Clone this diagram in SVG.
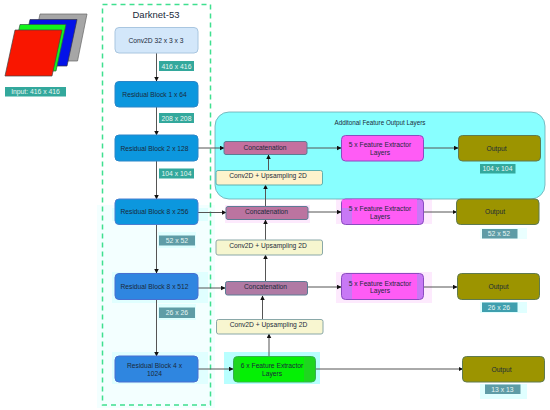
<svg xmlns="http://www.w3.org/2000/svg" width="550" height="410" viewBox="0 0 550 410">
<style>
text{font-family:"Liberation Sans",Arial,sans-serif;font-size:6.7px;text-anchor:middle;fill:#1a2a3a}
.l{fill:#33a89c}.lt{fill:#e6f5f2;font-size:6.8px}
.b{fill:#0c97de;stroke:#2a86c8;stroke-width:1}
.b2{fill:#2f86e0;stroke:#4a6fd0;stroke-width:1}
.c{fill:#c4709f;stroke:#5c7c94;stroke-width:1}
.f{fill:#ff5cf5;stroke:#8a4cc0;stroke-width:1}
.o{fill:#9c9400;stroke:#5f7a50;stroke-width:1}
.u{fill:#f6f6cf;stroke:#8aa8a8;stroke-width:1}
.h{fill:#e0ffff}.hp{fill:#fdeafd}
.e{stroke:#555;stroke-width:1;fill:none;marker-end:url(#a)}
</style>
<defs><marker id="a" markerUnits="userSpaceOnUse" markerWidth="5" markerHeight="5" refX="4" refY="2.25" orient="auto"><path d="M0 0L4.500 2.250L0 4.500Z" fill="#111"/></marker></defs>
<rect width="550" height="410" fill="#fff"/>
<rect x="97" y="205" width="118" height="203" fill="#f3ffff"/>
<rect x="112" y="208" width="96" height="13" class="h"/>
<rect x="112" y="272" width="96" height="31" class="h"/>
<rect x="112" y="352" width="96" height="32" class="h"/>
<rect x="158" y="232" width="38" height="16" class="h"/>
<rect x="158" y="304" width="38" height="16" class="h"/>
<rect x="225" y="205" width="85" height="18" class="hp"/>
<rect x="336" y="199" width="96" height="25" class="hp"/>
<rect x="336" y="272" width="96" height="31" class="hp"/>
<rect x="480" y="228" width="47" height="11" fill="#eaffff"/>
<rect x="480" y="302" width="47" height="11" class="h"/>
<rect x="480" y="384" width="47" height="15" class="h"/>
<rect x="224" y="352" width="96" height="32" fill="#b8ffff"/>

<g id="input">
<path d="M40 14H87L77.500 61H30Z" fill="#a6a6a6" stroke="#666" stroke-width=".7"/>
<path d="M30 19.500H77L67 66H20Z" fill="#0412e8" stroke="#334" stroke-width=".7"/>
<path d="M20 24.500H66L56 71H10Z" fill="#12f51c" stroke="#354" stroke-width=".7"/>
<path d="M15 30H62L52 76H5Z" fill="#f91600" stroke="#444" stroke-width=".7"/>
<rect class="l" x="5" y="87" width="61" height="9.500"/><text class="lt" x="35.500" y="94">Input: 416 x 416</text>
</g>
<g id="darknet">
<rect x="102.500" y="4.500" width="108" height="400.500" fill="none" stroke="#3fe08f" stroke-width="1.500" stroke-dasharray="5 4"/>
<text x="156" y="18" style="font-size:9.500px">Darknet-53</text>
</g>
<g id="panel"><rect x="215" y="112" width="330" height="87" rx="14" fill="#88ffff" stroke="#6aa8b0" stroke-width=".8"/>
<text x="380" y="125" style="font-size:6.300px">Additonal Feature Output Layers</text></g>

<g id="connectors">
<path class="e" d="M156.500 53V81"/><path class="e" d="M156.500 107V135"/><path class="e" d="M156.500 161V199"/><path class="e" d="M156.500 224.500V273"/><path class="e" d="M156.500 299.500V356"/>
<path class="e" d="M198 148H224"/><path class="e" d="M198 212.500H226"/><path class="e" d="M198 288H225"/><path class="e" d="M198 369H233"/>
<path class="e" d="M307 148H341"/><path class="e" d="M424 148H458"/><path class="e" d="M308 212H341"/><path class="e" d="M424 212H456.500"/><path class="e" d="M308 287H341"/><path class="e" d="M424 287H457"/><path class="e" d="M316 369H462.500"/>
<path class="e" d="M268.500 170V155"/><path class="e" d="M265.500 206V185"/><path class="e" d="M265.500 240V220"/><path class="e" d="M265.500 281V255"/><path class="e" d="M262.500 319V296"/><path class="e" d="M269 356V334"/>
</g>

<g id="n1"><rect class="b" style="fill:#d3e7fa;stroke:#a9c6e0" x="115" y="27.500" width="83" height="25.500" rx="4"/><text x="156" y="42.500">Conv2D 32 x 3 x 3</text></g>
<g id="n2"><rect class="b" x="115" y="81.500" width="83" height="25.500" rx="4"/><text x="154.500" y="96.500">Residual Block 1 x 64</text></g>
<g id="n3"><rect class="b" x="115" y="135" width="83" height="26" rx="4"/><text x="154.500" y="150.500">Residual Block 2 x 128</text></g>
<g id="n4"><rect class="b" style="stroke:#4a7ed0" x="115" y="199" width="83" height="25.500" rx="4"/><text x="154.500" y="214">Residual Block 8 x 256</text></g>
<g id="n5"><rect class="b2" x="115" y="273.500" width="83" height="26" rx="4"/><text x="154.500" y="289">Residual Block 8 x 512</text></g>
<g id="n6"><rect class="b2" x="115" y="356" width="83" height="26" rx="4"/><text x="154.500" y="368">Residual Block 4 x</text><text x="154.500" y="375.500">1024</text></g>

<g id="l1"><rect class="l" x="159" y="61" width="35" height="10"/><text class="lt" x="176.500" y="68.500">416 x 416</text></g>
<g id="l2"><rect class="l" x="159" y="113" width="35" height="10"/><text class="lt" x="176.500" y="120.500">208 x 208</text></g>
<g id="l3"><rect class="l" x="159" y="168.500" width="35" height="10"/><text class="lt" x="176.500" y="176">104 x 104</text></g>
<g id="l4"><rect x="159" y="235.500" width="36" height="10" fill="#5e9ca6"/><text class="lt" x="177" y="243">52 x 52</text></g>
<g id="l5"><rect x="159" y="307.500" width="36" height="10.500" fill="#5e9ca6"/><text class="lt" x="177" y="315">26 x 26</text></g>

<g id="c1"><rect class="c" x="224" y="141.500" width="83" height="13" rx="2"/><text x="265" y="149.500">Concatenation</text></g>
<g id="u1"><rect class="u" style="fill:#fdf3cc;stroke:#5fb0b0" x="216" y="170.500" width="106.500" height="14.500" rx="2"/><text x="268" y="178">Conv2D + Upsampling 2D</text></g>
<g id="f1"><rect class="f" x="341.500" y="135.500" width="82" height="25.500" rx="4"/><text x="380" y="147">5 x Feature Extractor</text><text x="380" y="154.500">Layers</text></g>
<g id="o1"><rect class="o" x="458.500" y="135.500" width="82" height="25.500" rx="4"/><text x="496.500" y="150.500">Output</text></g>
<g id="l6"><rect class="l" x="480" y="164" width="35.500" height="9.500"/><text class="lt" x="497.500" y="171">104 x 104</text></g>

<g id="c2"><rect class="c" style="fill:#bb74a0" x="226" y="206.500" width="82" height="13" rx="2"/><text x="266.500" y="214">Concatenation</text></g>
<g id="f2"><rect class="f" style="fill:#c878f5" x="341.500" y="199" width="82" height="25.500" rx="4"/><rect x="352" y="199.500" width="65" height="24.500" fill="#ff5cf5"/><rect x="342" y="199.500" width="75" height="8.500" fill="#ff5cf5"/><text x="380" y="211">5 x Feature Extractor</text><text x="380" y="218.500">Layers</text></g>
<g id="o2"><rect class="o" x="456.500" y="199" width="82.500" height="25.500" rx="4"/><text x="495" y="214">Output</text></g>
<g id="l7"><rect x="482" y="229" width="35.500" height="9.500" fill="#5e9ca6"/><text class="lt" x="499" y="236">52 x 52</text></g>
<g id="u2"><rect class="u" x="216" y="240" width="106.500" height="15" rx="2"/><text x="268" y="248">Conv2D + Upsampling 2D</text></g>

<g id="c3"><rect class="c" style="fill:#b07aa4" x="225.500" y="281.500" width="82" height="13.500" rx="2"/><text x="265.500" y="289">Concatenation</text></g>
<g id="f3"><rect class="f" style="fill:#c878f5" x="341.500" y="273.500" width="82" height="26" rx="4"/><rect x="352" y="274" width="65" height="25" fill="#ff5cf5"/><text x="380" y="285.500">5 x Feature Extractor</text><text x="380" y="293">Layers</text></g>
<g id="o3"><rect class="o" x="457.500" y="273.500" width="82" height="26" rx="4"/><text x="498.500" y="289">Output</text></g>
<g id="l8"><rect x="482" y="302.500" width="35.500" height="9.500" fill="#3f9fae"/><text class="lt" x="499" y="310">26 x 26</text></g>
<g id="u3"><rect class="u" style="fill:#f8f6d0" x="216.500" y="319.500" width="106.500" height="14.500" rx="2"/><text x="268.500" y="327">Conv2D + Upsampling 2D</text></g>

<g id="f4"><rect class="f" style="fill:#1fd61f;stroke:#35b050" x="233.500" y="356.500" width="82" height="25.500" rx="4"/><rect x="240" y="357" width="64" height="24.500" fill="#05f005"/><text x="272" y="367.500">6 x Feature Extractor</text><text x="272" y="375.500">Layers</text></g>
<g id="o4"><rect class="o" x="462.500" y="356.500" width="82" height="25.500" rx="4"/><text x="501.500" y="371.500">Output</text></g>
<g id="l9"><rect x="485" y="384.500" width="35.500" height="9.500" fill="#5e9ca6"/><text class="lt" x="502.500" y="391.500">13 x 13</text></g>
</svg>
